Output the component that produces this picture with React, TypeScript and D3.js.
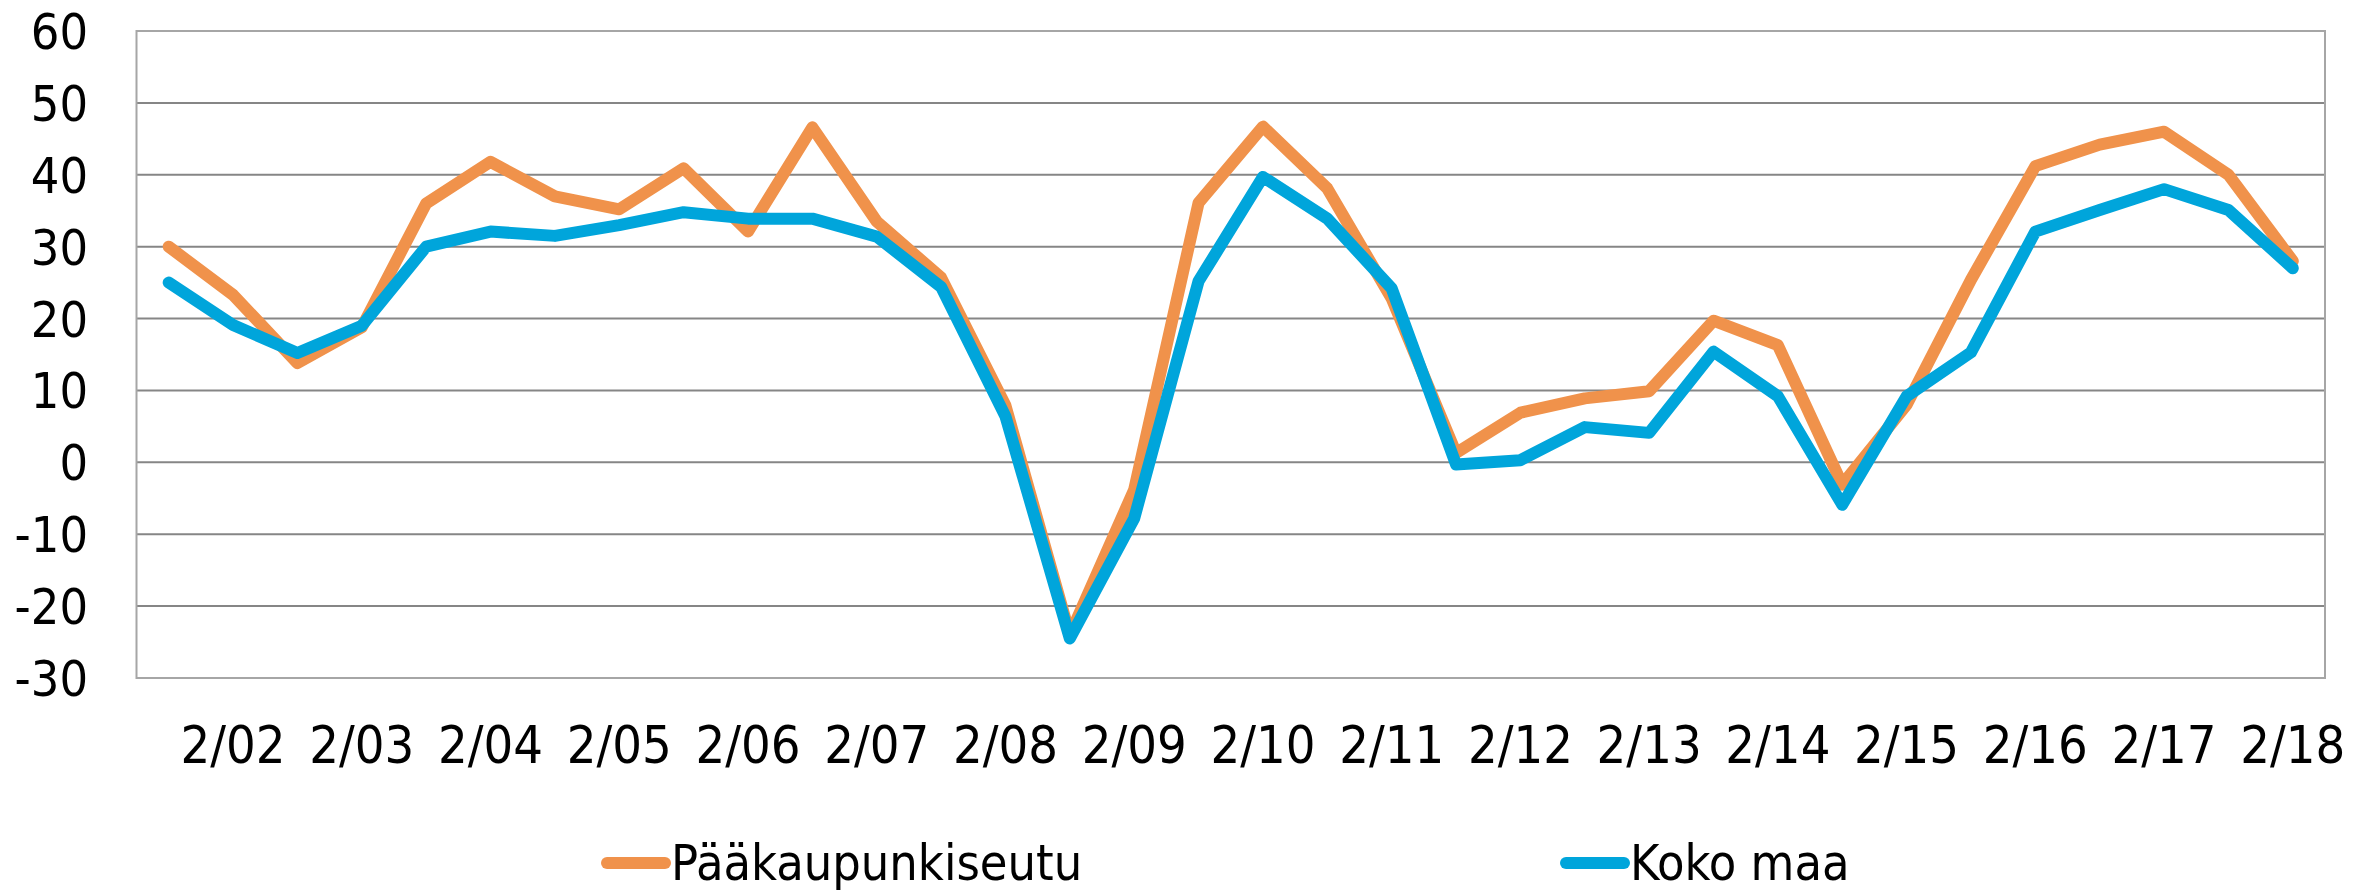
import React from 'react';
import * as d3 from 'd3';

// half-year periods, only the "2/yy" ones get a label
const periods = [
  '1/02', '2/02', '1/03', '2/03', '1/04', '2/04', '1/05', '2/05', '1/06', '2/06',
  '1/07', '2/07', '1/08', '2/08', '1/09', '2/09', '1/10', '2/10', '1/11', '2/11',
  '1/12', '2/12', '1/13', '2/13', '1/14', '2/14', '1/15', '2/15', '1/16', '2/16',
  '1/17', '2/17', '1/18', '2/18',
];
const tickLabels = ['2/02', '2/03', '2/04', '2/05', '2/06', '2/07', '2/08', '2/09', '2/10',
  '2/11', '2/12', '2/13', '2/14', '2/15', '2/16', '2/17', '2/18'];

const paakaupunkiseutu = [
  30.0, 23.3, 13.8, 18.8, 36.0, 41.8, 37.0, 35.2, 40.9, 32.1,
  46.6, 33.5, 25.7, 7.9, -24.0, -3.8, 36.1, 46.7, 38.1, 22.8,
  1.3, 6.9, 8.9, 9.9, 19.7, 16.3, -3.1, 8.0, 25.4, 41.2,
  44.2, 46.0, 40.0, 28.0,
];
const kokoMaa = [
  25.0, 19.1, 15.2, 19.0, 30.0, 32.1, 31.5, 33.0, 34.8, 33.9,
  33.9, 31.4, 24.4, 6.4, -24.5, -7.8, 25.2, 39.7, 33.9, 24.2,
  -0.3, 0.3, 4.9, 4.1, 15.4, 9.2, -5.9, 9.2, 15.3, 32.1,
  35.1, 38.0, 35.1, 27.0,
];
const yTicks = [-30, -20, -10, 0, 10, 20, 30, 40, 50, 60];

const W = 2377;
const H = 891;
const left = 136.5, right = 2325, top = 31, bottom = 678;
const FONT = '"DejaVu Sans Condensed", "DejaVu Sans", sans-serif';
const ORANGE = '#F0924B';
const BLUE = '#00A5DB';

const App: React.FC = () => {
  const x = d3.scaleBand<string>().domain(periods).range([left, right]).padding(0);
  const y = d3.scaleLinear().domain([-30, 60]).range([bottom, top]);
  const cx = (p: string) => (x(p) ?? 0) + x.bandwidth() / 2;

  const line = d3.line<number>()
    .x((_, i) => cx(periods[i]))
    .y(d => y(d));

  const series = [
    { name: 'Pääkaupunkiseutu', values: paakaupunkiseutu, color: ORANGE },
    { name: 'Koko maa', values: kokoMaa, color: BLUE },
  ];
  const legendX = [607, 1566];

  return (
    <div style={{ position: 'absolute', left: 0, top: 0 }}>
      <svg width={W} height={H} style={{ display: 'block', background: '#fff' }}>
        {/* gridlines */}
        {yTicks.filter(t => t > -30 && t < 60).map(t => (
          <line key={t} x1={left} x2={right} y1={y(t)} y2={y(t)} stroke="#868686" strokeWidth={2} />
        ))}
        <rect x={left} y={top} width={right - left} height={bottom - top}
          fill="none" stroke="#A6A6A6" strokeWidth={2} />

        {/* y labels */}
        {yTicks.map(t => (
          <text key={t} x={88} y={y(t)} dy="0.36em" textAnchor="end"
            fontFamily={FONT} fontSize={50} fill="#000">{t}</text>
        ))}

        {/* x labels */}
        {tickLabels.map(l => (
          <text key={l} x={cx(l)} y={763} textAnchor="middle"
            fontFamily={FONT} fontSize={52} fill="#000">{l}</text>
        ))}

        {/* lines */}
        {series.map(s => (
          <path key={s.name} d={line(s.values) ?? ''} fill="none" stroke={s.color}
            strokeWidth={12} strokeLinecap="round" strokeLinejoin="round" />
        ))}

        {/* legend */}
        {series.map((s, i) => (
          <g key={s.name}>
            <line x1={legendX[i]} x2={legendX[i] + 58} y1={863} y2={863}
              stroke={s.color} strokeWidth={12} strokeLinecap="round" />
            <text x={legendX[i] + 64} y={880} fontFamily={FONT} fontSize={50} fill="#000">{s.name}</text>
          </g>
        ))}
      </svg>
    </div>
  );
};

export default App;
